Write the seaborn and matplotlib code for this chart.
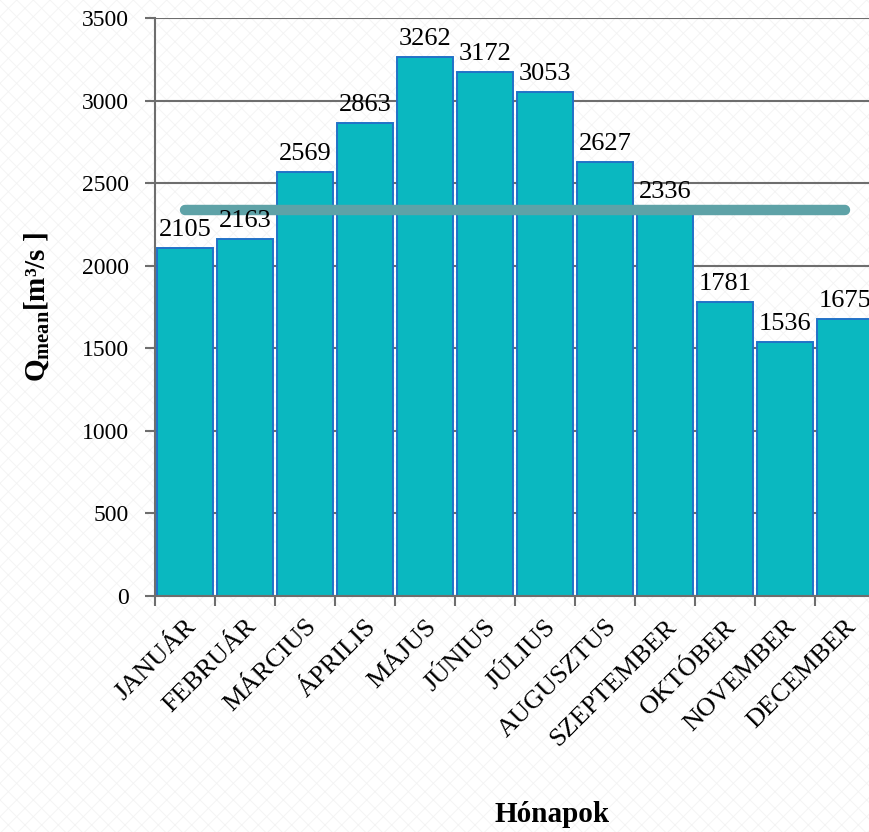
import numpy as np
import pandas as pd
import matplotlib
matplotlib.use("Agg")
import matplotlib.pyplot as plt
from matplotlib.patches import Rectangle
import seaborn as sns

# Monthly mean discharge values
months = ["JANUÁR", "FEBRUÁR", "MÁRCIUS", "ÁPRILIS", "MÁJUS", "JÚNIUS",
          "JÚLIUS", "AUGUSZTUS", "SZEPTEMBER", "OKTÓBER", "NOVEMBER", "DECEMBER"]
q_mean = [2105, 2163, 2569, 2863, 3262, 3172, 3053, 2627, 2336, 1781, 1536, 1675]
annual_mean = 2340
y_ticks = [0, 500, 1000, 1500, 2000, 2500, 3000, 3500]

sns.set_theme(style="white")
plt.rcParams["font.family"] = ["Liberation Serif", "DejaVu Serif"]
plt.rcParams["mathtext.fontset"] = "custom"
plt.rcParams["mathtext.rm"] = "Liberation Serif"
plt.rcParams["mathtext.bf"] = "Liberation Serif:bold"
plt.rcParams["hatch.linewidth"] = 0.6
plt.rcParams["text.color"] = "black"
plt.rcParams["xtick.labelcolor"] = "black"
plt.rcParams["ytick.labelcolor"] = "black"
plt.rcParams["axes.labelcolor"] = "black"

df = pd.DataFrame({"month": months, "q": q_mean})

fig = plt.figure(figsize=(8.69, 8.32), dpi=100)
fig.patch.set_facecolor("white")
# faint textured backdrop
fig.patches.append(Rectangle((0, 0), 1, 1, transform=fig.transFigure,
                             facecolor="white", edgecolor="#F3F3F3",
                             hatch="xx", linewidth=0, zorder=-10))

ax = fig.add_axes([155 / 869, 1 - 596 / 832, 720 / 869, 578 / 832])
ax.set_facecolor("none")

sns.barplot(data=df, x="month", y="q", ax=ax, color="#0AB8C0",
            saturation=1, width=0.93, edgecolor="#2272C8", linewidth=1.4,
            zorder=2)

# long-term mean line
ax.plot([0, len(months) - 1], [annual_mean, annual_mean], color="#5EA2A7",
        linewidth=7.5, solid_capstyle="round", zorder=3)

for i, v in enumerate(q_mean):
    ax.annotate(f"{v}", (i, v), xytext=(0, 5), textcoords="offset points",
                ha="center", va="bottom", fontsize=19, color="black", zorder=4)

ax.set_xlim(-0.5, len(months) - 0.5)
ax.set_ylim(0, 3500)
ax.set_yticks(y_ticks)
ax.set_yticklabels([str(t) for t in y_ticks], fontsize=17)
ax.yaxis.grid(True, color="#6E6E6E", linewidth=1.5, zorder=0)
ax.set_axisbelow(True)

ax.set_xticks(range(len(months)))
ax.set_xticklabels(months, rotation=45, ha="right", rotation_mode="anchor",
                   fontsize=19)
ax.set_xticks(np.arange(-0.5, len(months)), minor=True)
ax.tick_params(axis="x", which="major", length=0, pad=14)
ax.tick_params(axis="x", which="minor", length=7, width=1.5, color="#6E6E6E",
               direction="out", bottom=True)
ax.tick_params(axis="y", length=7, width=1.5, color="#6E6E6E", direction="out",
               left=True, pad=12)

for side in ("top", "right"):
    ax.spines[side].set_visible(False)
for side in ("left", "bottom"):
    ax.spines[side].set_color("#6E6E6E")
    ax.spines[side].set_linewidth(1.5)

ax.set_xlabel("")
ax.set_ylabel(r"$\mathbf{Q_{mean}}$[m³/s ]", fontsize=21, fontweight="bold")
ax.yaxis.set_label_coords(-0.145, 0.5)
fig.text(552 / 869, 1 - 815 / 832, "Hónapok", ha="center", va="center",
         fontsize=21, fontweight="bold")

fig.savefig("out.png", dpi=100)
